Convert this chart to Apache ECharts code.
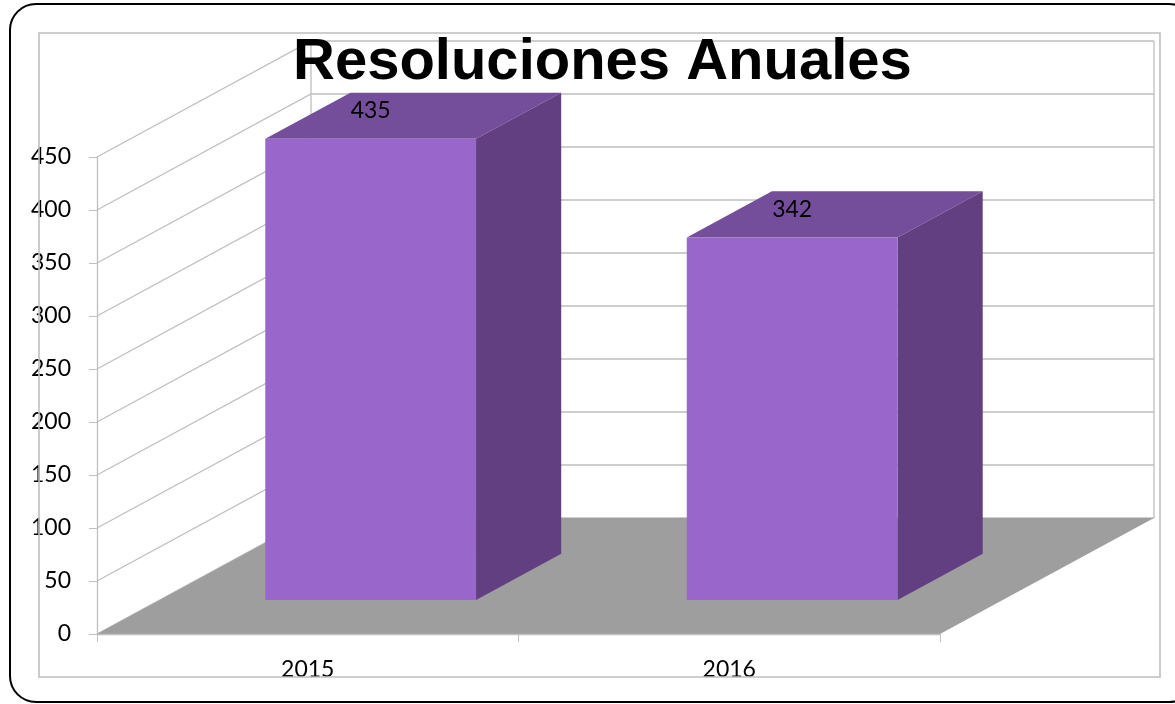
<!DOCTYPE html>
<html>
<head>
<meta charset="utf-8">
<script src="https://cdn.jsdelivr.net/npm/echarts@6/dist/echarts.min.js"></script>
<style>
html,body{margin:0;padding:0;background:#fff;}
#chart{width:1175px;height:704px;}
</style>
</head>
<body>
<div id="chart"></div>
<script>
// ---- data ----
const categories = ['2015', '2016'];
const resoluciones = [435, 342];
const yTicks = [0, 50, 100, 150, 200, 250, 300, 350, 400, 450];
const titleText = 'Resoluciones Anuales';

// ---- 3D look (pixel layout constants) ----
const DEPTH_X = 214, DEPTH_Y = -116;   // floor depth vector
const BAR_FRONT = 0.294, BAR_BACK = 0.692; // bar position along depth
const GRID_COLOR = '#BFBFBF';
const FONT = 'Lato';

const chart = echarts.init(document.getElementById('chart'), null, {renderer: 'canvas'});

function wallsRender(params, api) {
  const cs = params.coordSys;
  const v = api.value(0);
  const y = api.coord([0, v])[1];
  const x0 = cs.x, x1 = cs.x + cs.width;
  const children = [{
    type: 'polyline',
    shape: {points: [[x0, y], [x0 + DEPTH_X, y + DEPTH_Y], [x1 + DEPTH_X, y + DEPTH_Y]]},
    style: {stroke: GRID_COLOR, lineWidth: 1.3, fill: null}
  }];
  if (params.dataIndex === 0) {
    const yTop = api.coord([0, yTicks[yTicks.length - 1]])[1];
    children.push({
      type: 'line',
      shape: {x1: x0 + DEPTH_X, y1: y + DEPTH_Y, x2: x0 + DEPTH_X, y2: yTop + DEPTH_Y},
      style: {stroke: GRID_COLOR, lineWidth: 1.3}
    }, {
      type: 'line',
      shape: {x1: x1 + DEPTH_X, y1: y + DEPTH_Y, x2: x1 + DEPTH_X, y2: yTop + DEPTH_Y},
      style: {stroke: GRID_COLOR, lineWidth: 1.3}
    });
  }
  return {type: 'group', children: children};
}

function floorRender(params, api) {
  const cs = params.coordSys;
  const y = api.coord([0, api.value(0)])[1];
  const x0 = cs.x, x1 = cs.x + cs.width;
  return {
    type: 'polygon',
    shape: {points: [[x0, y], [x1, y], [x1 + DEPTH_X, y + DEPTH_Y], [x0 + DEPTH_X, y + DEPTH_Y]]},
    style: {fill: '#9E9E9E', stroke: null}
  };
}

function barRender(params, api) {
  const idx = api.value(0);
  const val = api.value(1);
  const base = api.coord([idx, 0]);
  const top = api.coord([idx, val]);
  const bw = api.size([1, 0])[0] * 0.5;
  const fx = BAR_FRONT * DEPTH_X, fy = BAR_FRONT * DEPTH_Y;
  const bx = BAR_BACK * DEPTH_X, by = BAR_BACK * DEPTH_Y;
  const l = base[0] - bw / 2, r = base[0] + bw / 2;
  const yb = base[1], yt = top[1];
  return {
    type: 'group',
    children: [
      { // top face
        type: 'polygon',
        shape: {points: [[l + fx, yt + fy], [r + fx, yt + fy], [r + bx, yt + by], [l + bx, yt + by]]},
        style: {fill: '#744E9B'}
      },
      { // side face
        type: 'polygon',
        shape: {points: [[r + fx, yt + fy], [r + bx, yt + by], [r + bx, yb + by], [r + fx, yb + fy]]},
        style: {fill: '#613F81'}
      },
      { // front face
        type: 'rect',
        shape: {x: l + fx, y: yt + fy, width: bw, height: yb - yt},
        style: {fill: '#9966CC'}
      },
      { // value label
        type: 'text',
        style: {
          text: String(val),
          x: base[0] + fx, y: yt + fy - 28,
          align: 'center', verticalAlign: 'middle',
          font: '23px ' + FONT, fill: '#000'
        }
      }
    ]
  };
}

const option = {
  backgroundColor: '#fff',
  animation: false,
  title: {
    text: titleText,
    left: 288,
    top: 29,
    textStyle: {fontFamily: 'Liberation Sans', fontWeight: 'bold', fontSize: 58, color: '#000'},
    z: 10
  },
  graphic: [
    {type: 'rect', shape: {x: 10, y: 4, width: 1185, height: 698, r: 26},
     style: {fill: null, stroke: '#000', lineWidth: 2}, z: -1, silent: true},
    {type: 'rect', shape: {x: 39, y: 33, width: 1121, height: 644},
     style: {fill: null, stroke: GRID_COLOR, lineWidth: 1.6}, z: 20, silent: true}
  ],
  grid: {left: 97, top: 157, width: 843, height: 477, containLabel: false},
  xAxis: {
    type: 'category',
    data: categories,
    axisLine: {show: true, lineStyle: {color: GRID_COLOR, width: 1.3}},
    axisTick: {show: true, length: 8, alignWithLabel: false, lineStyle: {color: GRID_COLOR}},
    axisLabel: {color: '#000', fontFamily: FONT, fontSize: 23, margin: 24},
    splitLine: {show: false},
    z: 5
  },
  yAxis: {
    type: 'value',
    min: 0, max: 450, interval: 50,
    axisLine: {show: true, lineStyle: {color: GRID_COLOR, width: 1.3}},
    axisTick: {show: true, length: 8, lineStyle: {color: GRID_COLOR}},
    axisLabel: {color: '#000', fontFamily: FONT, fontSize: 23, margin: 26},
    splitLine: {show: false}
  },
  series: [
    {type: 'custom', name: 'walls', renderItem: wallsRender, data: yTicks.map(v => [v]), z: 1, silent: true},
    {type: 'custom', name: 'floor', renderItem: floorRender, data: [[yTicks[0]]], z: 2, silent: true},
    {type: 'custom', name: 'Resoluciones', renderItem: barRender,
     data: resoluciones.map((v, i) => [i, v]), z: 3}
  ]
};
chart.setOption(option);
</script>
</body>
</html>
